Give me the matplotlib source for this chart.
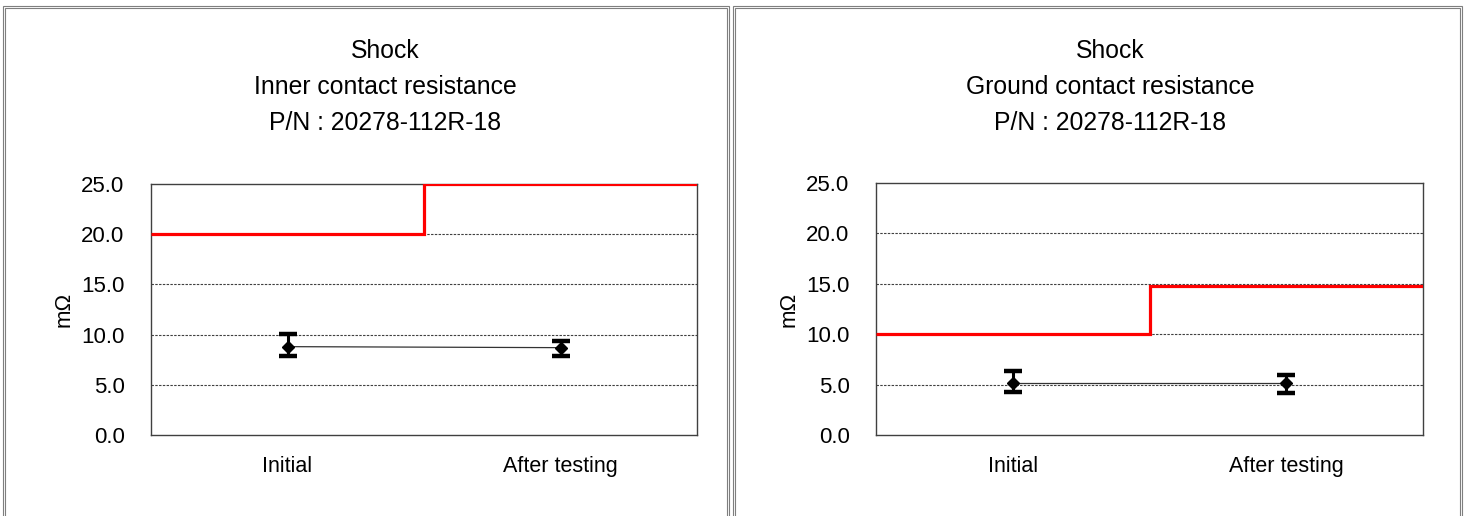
import numpy as np
import matplotlib
matplotlib.use("Agg")
import matplotlib.pyplot as plt
from matplotlib.patches import Rectangle

plt.rcParams['font.family'] = ['Liberation Sans', 'DejaVu Sans']

categories = ["Initial", "After testing"]
y_ticks = [0.0, 5.0, 10.0, 15.0, 20.0, 25.0]

# Inner contact resistance (mΩ)
inner_mean = [8.8, 8.7]
inner_min = [7.9, 7.9]
inner_max = [10.1, 9.4]
inner_limit = [20.0, 25.0]

# Ground contact resistance (mΩ)
ground_mean = [5.2, 5.2]
ground_min = [4.3, 4.2]
ground_max = [6.3, 6.0]
ground_limit = [10.0, 14.8]

panels = [
    (["Shock", "Inner contact resistance", "P/N : 20278-112R-18"],
     inner_mean, inner_min, inner_max, inner_limit),
    (["Shock", "Ground contact resistance", "P/N : 20278-112R-18"],
     ground_mean, ground_min, ground_max, ground_limit),
]

W, H = 1465, 516
fig = plt.figure(figsize=(W / 100, H / 100), dpi=100)

# panel frames (double border)
for x0, x1 in [(3, 729), (733, 1462)]:
    for off in (0, 2):
        fig.add_artist(Rectangle(((x0 + off) / W, -0.1), (x1 - x0 - 2 * off) / W,
                                 (1 - (6 + off) / H) + 0.1,
                                 transform=fig.transFigure, fill=False,
                                 edgecolor='#7f7f7f', linewidth=0.8))

axes_px = [(151, 697, 184, 435), (876, 1423, 183, 435)]
title_x = [385, 1110]
title_baselines = [58, 94, 130]

for (title, mean, lo, hi, limit), (l, r, t, b), tx in zip(panels, axes_px, title_x):
    ax = fig.add_axes([l / W, 1 - b / H, (r - l) / W, (b - t) / H])
    x = np.arange(len(categories)) + 0.5
    edges = np.arange(len(categories) + 1)

    ax.set_xlim(edges[0], edges[-1])
    ax.set_ylim(y_ticks[0], y_ticks[-1])
    ax.set_yticks(y_ticks)
    ax.set_yticklabels([f"{v:.1f}" for v in y_ticks], fontsize=16)
    ax.set_xticks(x)
    ax.set_xticklabels(categories, fontsize=15.5)
    ax.tick_params(axis='y', length=0, pad=19)
    ax.tick_params(axis='x', length=0, pad=15)

    for v in y_ticks[1:-1]:
        ax.axhline(v, color='#404040', linewidth=0.8, linestyle=(0, (2.2, 1.2)), zorder=1)

    for s in ax.spines.values():
        s.set_color('#404040')
        s.set_linewidth(1.0)

    ax.stairs(limit, edges, baseline=None, color='#ff0000', linewidth=2.3, zorder=3)

    mean_a = np.array(mean)
    yerr = [mean_a - np.array(lo), np.array(hi) - mean_a]
    ax.plot(x, mean_a, color='#333333', linewidth=0.9, zorder=4)
    ax.errorbar(x, mean_a, yerr=yerr, fmt='D', color='black', markersize=6.5,
                ecolor='black', elinewidth=2.2, capsize=6.5, capthick=3.2, zorder=5)

    ax.set_ylabel("mΩ", fontsize=16)
    ax.yaxis.set_label_coords(-76 / (r - l), 0.5)

    for line, yb in zip(title, title_baselines):
        fig.text(tx / W, 1 - yb / H, line, ha='center', va='baseline', fontsize=17.8)

fig.savefig("out.png", dpi=100)
